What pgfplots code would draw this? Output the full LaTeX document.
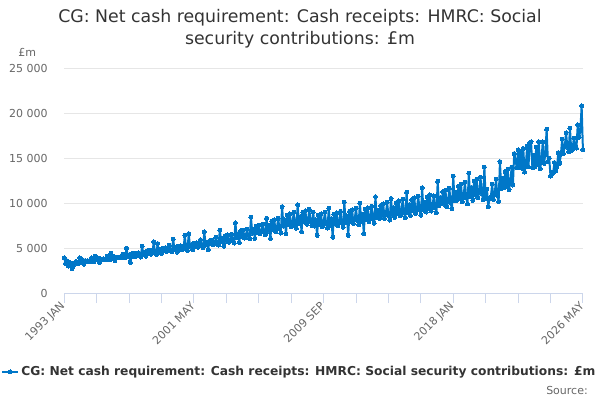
\documentclass[border=0pt]{standalone}
\usepackage{pgfplots}
\pgfplotsset{compat=1.18}
\usepackage{pgfplotstable}
\usepackage{fontspec}
\setmainfont{DejaVu Sans}
\definecolor{series}{RGB}{0,119,200}
\definecolor{txt}{RGB}{51,51,51}
\definecolor{lbl}{RGB}{102,102,102}
\definecolor{axl}{RGB}{204,214,235}
\definecolor{grd}{RGB}{230,230,230}
\pgfplotstableread[row sep=\\]{
v\\
3900\\ 3300\\ 3600\\ 3000\\ 3400\\ 3300\\ 2700\\ 3000\\ 3200\\ 3500\\ 3400\\ 3300\\
3900\\ 3500\\ 3700\\ 3200\\ 3600\\ 3500\\ 3600\\ 3500\\ 3500\\ 3900\\ 3600\\ 3500\\
4100\\ 3700\\ 3900\\ 3400\\ 3800\\ 3700\\ 3800\\ 3700\\ 3700\\ 4100\\ 3800\\ 3700\\
4400\\ 3900\\ 4100\\ 3600\\ 4000\\ 3900\\ 4000\\ 3900\\ 3900\\ 4300\\ 4000\\ 3900\\
5000\\ 4050\\ 4250\\ 3400\\ 4370\\ 4100\\ 4400\\ 4050\\ 4150\\ 4450\\ 4100\\ 4000\\
5200\\ 4350\\ 4550\\ 4100\\ 4700\\ 4400\\ 4750\\ 4300\\ 4450\\ 5700\\ 4400\\ 4300\\
5500\\ 4630\\ 4850\\ 4370\\ 4990\\ 4680\\ 5040\\ 4610\\ 4750\\ 5300\\ 4700\\ 4560\\
6000\\ 4830\\ 5050\\ 4550\\ 5200\\ 4880\\ 5250\\ 4800\\ 4950\\ 6400\\ 4900\\ 4750\\
6600\\ 5110\\ 5350\\ 4820\\ 5510\\ 5170\\ 5570\\ 5090\\ 5250\\ 5900\\ 5190\\ 5040\\
6800\\ 5400\\ 5660\\ 4800\\ 5820\\ 5460\\ 5880\\ 5380\\ 5540\\ 6200\\ 5490\\ 5320\\
7000\\ 5700\\ 6090\\ 5190\\ 6360\\ 5760\\ 6450\\ 5640\\ 5910\\ 6540\\ 5820\\ 5550\\
7800\\ 6180\\ 6600\\ 5620\\ 6890\\ 6240\\ 6990\\ 6110\\ 6400\\ 7090\\ 6310\\ 6010\\
8400\\ 6650\\ 7110\\ 6060\\ 7420\\ 6720\\ 7530\\ 6580\\ 6900\\ 7630\\ 6790\\ 6480\\
8300\\ 6880\\ 7550\\ 6070\\ 7990\\ 7030\\ 8140\\ 6810\\ 7250\\ 8290\\ 7100\\ 6660\\
9600\\ 7440\\ 8160\\ 6560\\ 8640\\ 7600\\ 8800\\ 7360\\ 7840\\ 8960\\ 7680\\ 7200\\
9800\\ 7720\\ 8470\\ 6810\\ 8960\\ 7890\\ 9130\\ 7640\\ 8130\\ 9300\\ 7970\\ 7470\\
9000\\ 7440\\ 8160\\ 6400\\ 8640\\ 7600\\ 8800\\ 7360\\ 7840\\ 8960\\ 7680\\ 7200\\
9400\\ 7530\\ 8260\\ 6200\\ 8750\\ 7700\\ 8910\\ 7450\\ 7940\\ 9070\\ 7780\\ 7290\\
10100\\ 7810\\ 8570\\ 6400\\ 9070\\ 7980\\ 9240\\ 7730\\ 8230\\ 9410\\ 8060\\ 7560\\
10000\\ 8000\\ 8770\\ 6600\\ 9290\\ 8170\\ 9460\\ 7910\\ 8430\\ 9630\\ 8260\\ 7740\\
10700\\ 8370\\ 9180\\ 8300\\ 9720\\ 8550\\ 9900\\ 8280\\ 8820\\ 10080\\ 8640\\ 8100\\
10500\\ 8650\\ 9490\\ 8400\\ 10040\\ 8840\\ 10230\\ 8560\\ 9110\\ 10420\\ 8930\\ 8370\\
11200\\ 8930\\ 9790\\ 8600\\ 10370\\ 9120\\ 10560\\ 8830\\ 9410\\ 10750\\ 9220\\ 8640\\
11700\\ 9210\\ 10100\\ 9000\\ 10690\\ 9410\\ 10890\\ 9110\\ 9700\\ 10800\\ 9500\\ 8910\\
12400\\ 9670\\ 10610\\ 10100\\ 11230\\ 9880\\ 11440\\ 9570\\ 10190\\ 11650\\ 9980\\ 9360\\
13000\\ 10230\\ 11220\\ 10300\\ 11880\\ 10450\\ 12100\\ 10120\\ 10780\\ 12320\\ 10560\\ 9900\\
13300\\ 10700\\ 11730\\ 10300\\ 12420\\ 10930\\ 12650\\ 10580\\ 11270\\ 12880\\ 11040\\ 10350\\
14000\\ 10510\\ 11530\\ 9600\\ 10500\\ 10700\\ 12100\\ 10400\\ 11070\\ 12660\\ 10850\\ 10170\\
14600\\ 11630\\ 12750\\ 11700\\ 13500\\ 11880\\ 13750\\ 11500\\ 12250\\ 14000\\ 12000\\ 15500\\
14800\\ 13900\\ 15900\\ 14000\\ 15770\\ 13870\\ 16060\\ 13430\\ 14310\\ 16350\\ 14020\\ 16700\\
16800\\ 13950\\ 15300\\ 14000\\ 16200\\ 14250\\ 16800\\ 13800\\ 14700\\ 16800\\ 14400\\ 15400\\
18200\\ 14600\\ 15000\\ 13000\\ 13400\\ 13300\\ 14500\\ 13600\\ 14000\\ 15600\\ 14400\\ 15400\\
17100\\ 15500\\ 16300\\ 17800\\ 16200\\ 15700\\ 18300\\ 15800\\ 16000\\ 17200\\ 16400\\ 16100\\
18700\\ 17300\\ 18000\\ 20800\\ 15900\\
}\datatable
\begin{document}
\begin{tikzpicture}
\path[use as bounding box] (0,0) rectangle (450pt,300pt);
\node[anchor=base,text=txt,font=\fontsize{13}{15}\selectfont] at (225pt,282.75pt) {CG: Net cash requirement: Cash receipts: HMRC: Social};
\node[anchor=base,text=txt,font=\fontsize{13}{15}\selectfont] at (225pt,266.25pt) {security contributions: £m};
\node[anchor=base west,inner sep=0pt,text=lbl,font=\fontsize{8.25}{10}\selectfont] at (13.5pt,257.25pt) {£m};
\node[anchor=base east,inner sep=0pt,text=lbl,font=\fontsize{8.25}{10}\selectfont] at (441pt,4.5pt) {Source:};
\begin{axis}[
  at={(48.2pt,80.25pt)}, anchor=south west,
  scale only axis, width=389pt, height=168.75pt,
  xmin=0, xmax=400, ymin=0, ymax=25000,
  axis x line*=bottom, axis y line*=left,
  x axis line style={draw=axl, line width=0.75pt},
  y axis line style={draw=none},
  xtick={0,100,200,300,400},
  xticklabels={1993 JAN,2001 MAY,2009 SEP,2018 JAN,2026 MAY},
  minor xtick={25,50,75,125,150,175,225,250,275,325,350,375},
  tick align=outside,
  major tick length=7.5pt, minor tick length=7.5pt,
  xtick style={draw=axl, line width=0.75pt},
  ytick={0,5000,10000,15000,20000,25000},
  yticklabels={0,5 000,10 000,15 000,20 000,25 000},
  scaled y ticks=false,
  ytick style={draw=none},
  ymajorgrids, grid style={draw=grd, line width=0.75pt},
  ticklabel style={text=lbl, font=\fontsize{8.25}{10}\selectfont},
  yticklabel style={xshift=-1.5pt},
  xticklabel style={rotate=45, anchor=east, inner sep=1pt},
  legend style={at={(0.454,-0.351)}, anchor=center, draw=none, fill=none,
    font=\bfseries\fontsize{9.2}{11}\selectfont, text=txt,
    inner sep=0pt, cells={anchor=west}},
  legend image code/.code={\draw[mark repeat=2,mark phase=2] plot coordinates {(0cm,0cm)(0.2cm,0cm)(0.4cm,0cm)};},
  clip=false,
]
\addplot[color=series, line width=1.5pt, line join=round, mark=*, mark size=1.5pt, mark options={fill=series, draw=series, line width=0pt}]
  table[x expr=\coordindex, y=v] {\datatable};
\addlegendentry{CG: Net cash requirement: Cash receipts: HMRC: Social security contributions: £m}
\end{axis}
\end{tikzpicture}
\end{document}
